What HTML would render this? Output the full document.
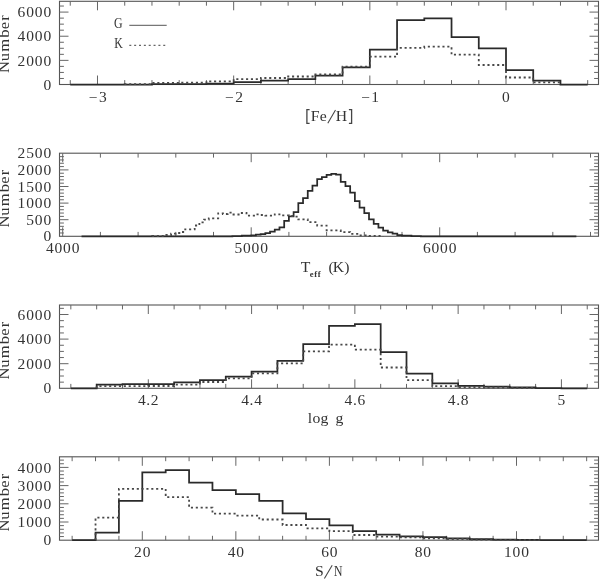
<!DOCTYPE html>
<html><head><meta charset="utf-8"><style>
html,body{margin:0;padding:0;background:#fff;}
svg{display:block;will-change:transform;}
.n{font-family:"Liberation Serif",serif;font-size:13.6px;fill:#333;}
.t{font-family:"Liberation Serif",serif;font-size:13.8px;fill:#333;}
.sub{font-family:"Liberation Serif",serif;font-size:8.6px;font-weight:bold;fill:#333;}
</style></head><body>
<svg width="600" height="579" viewBox="0 0 600 579">
<rect x="0" y="0" width="600" height="579" fill="#fff"/>
<rect x="59.5" y="1.3" width="539" height="83.2" fill="none" stroke="#555" stroke-width="1.1"/>
<path d="M70.26 84.5v-4.4M70.26 1.3v4.4M97.49 84.5v-9M97.49 1.3v9M124.72 84.5v-4.4M124.72 1.3v4.4M151.96 84.5v-4.4M151.96 1.3v4.4M179.19 84.5v-4.4M179.19 1.3v4.4M206.43 84.5v-4.4M206.43 1.3v4.4M233.66 84.5v-9M233.66 1.3v9M260.89 84.5v-4.4M260.89 1.3v4.4M288.13 84.5v-4.4M288.13 1.3v4.4M315.36 84.5v-4.4M315.36 1.3v4.4M342.6 84.5v-4.4M342.6 1.3v4.4M369.83 84.5v-9M369.83 1.3v9M397.06 84.5v-4.4M397.06 1.3v4.4M424.3 84.5v-4.4M424.3 1.3v4.4M451.53 84.5v-4.4M451.53 1.3v4.4M478.77 84.5v-4.4M478.77 1.3v4.4M506 84.5v-9M506 1.3v9M533.23 84.5v-4.4M533.23 1.3v4.4M560.47 84.5v-4.4M560.47 1.3v4.4M587.7 84.5v-4.4M587.7 1.3v4.4M59.5 78.47h4.4M598.5 78.47h-4.4M59.5 72.43h4.4M598.5 72.43h-4.4M59.5 66.39h4.4M598.5 66.39h-4.4M59.5 60.36h9M598.5 60.36h-9M59.5 54.33h4.4M598.5 54.33h-4.4M59.5 48.29h4.4M598.5 48.29h-4.4M59.5 42.25h4.4M598.5 42.25h-4.4M59.5 36.22h9M598.5 36.22h-9M59.5 30.18h4.4M598.5 30.18h-4.4M59.5 24.15h4.4M598.5 24.15h-4.4M59.5 18.11h4.4M598.5 18.11h-4.4M59.5 12.08h9M598.5 12.08h-9M59.5 6.04h4.4M598.5 6.04h-4.4" stroke="#666" stroke-width="1" fill="none"/>
<rect x="59.5" y="153.2" width="539" height="83.1" fill="none" stroke="#555" stroke-width="1.1"/>
<path d="M62.7 236.3v-9M62.7 153.2v9M100.4 236.3v-4.4M100.4 153.2v4.4M138.1 236.3v-4.4M138.1 153.2v4.4M175.8 236.3v-4.4M175.8 153.2v4.4M213.5 236.3v-4.4M213.5 153.2v4.4M251.2 236.3v-9M251.2 153.2v9M288.9 236.3v-4.4M288.9 153.2v4.4M326.6 236.3v-4.4M326.6 153.2v4.4M364.3 236.3v-4.4M364.3 153.2v4.4M402 236.3v-4.4M402 153.2v4.4M439.7 236.3v-9M439.7 153.2v9M477.4 236.3v-4.4M477.4 153.2v4.4M515.1 236.3v-4.4M515.1 153.2v4.4M552.8 236.3v-4.4M552.8 153.2v4.4M590.5 236.3v-4.4M590.5 153.2v4.4M59.5 232.98h4.4M598.5 232.98h-4.4M59.5 229.66h4.4M598.5 229.66h-4.4M59.5 226.34h4.4M598.5 226.34h-4.4M59.5 223.02h4.4M598.5 223.02h-4.4M59.5 219.7h9M598.5 219.7h-9M59.5 216.38h4.4M598.5 216.38h-4.4M59.5 213.06h4.4M598.5 213.06h-4.4M59.5 209.74h4.4M598.5 209.74h-4.4M59.5 206.42h4.4M598.5 206.42h-4.4M59.5 203.1h9M598.5 203.1h-9M59.5 199.78h4.4M598.5 199.78h-4.4M59.5 196.46h4.4M598.5 196.46h-4.4M59.5 193.14h4.4M598.5 193.14h-4.4M59.5 189.82h4.4M598.5 189.82h-4.4M59.5 186.5h9M598.5 186.5h-9M59.5 183.18h4.4M598.5 183.18h-4.4M59.5 179.86h4.4M598.5 179.86h-4.4M59.5 176.54h4.4M598.5 176.54h-4.4M59.5 173.22h4.4M598.5 173.22h-4.4M59.5 169.9h9M598.5 169.9h-9M59.5 166.58h4.4M598.5 166.58h-4.4M59.5 163.26h4.4M598.5 163.26h-4.4M59.5 159.94h4.4M598.5 159.94h-4.4M59.5 156.62h4.4M598.5 156.62h-4.4" stroke="#666" stroke-width="1" fill="none"/>
<rect x="59.5" y="305" width="539" height="83.3" fill="none" stroke="#555" stroke-width="1.1"/>
<path d="M70.84 388.3v-4.4M70.84 305v4.4M96.66 388.3v-4.4M96.66 305v4.4M122.48 388.3v-4.4M122.48 305v4.4M148.3 388.3v-9M148.3 305v9M174.12 388.3v-4.4M174.12 305v4.4M199.94 388.3v-4.4M199.94 305v4.4M225.76 388.3v-4.4M225.76 305v4.4M251.58 388.3v-9M251.58 305v9M277.4 388.3v-4.4M277.4 305v4.4M303.22 388.3v-4.4M303.22 305v4.4M329.04 388.3v-4.4M329.04 305v4.4M354.86 388.3v-9M354.86 305v9M380.68 388.3v-4.4M380.68 305v4.4M406.5 388.3v-4.4M406.5 305v4.4M432.32 388.3v-4.4M432.32 305v4.4M458.14 388.3v-9M458.14 305v9M483.96 388.3v-4.4M483.96 305v4.4M509.78 388.3v-4.4M509.78 305v4.4M535.6 388.3v-4.4M535.6 305v4.4M561.42 388.3v-9M561.42 305v9M587.24 388.3v-4.4M587.24 305v4.4M59.5 382.15h4.4M598.5 382.15h-4.4M59.5 376h4.4M598.5 376h-4.4M59.5 369.85h4.4M598.5 369.85h-4.4M59.5 363.7h9M598.5 363.7h-9M59.5 357.55h4.4M598.5 357.55h-4.4M59.5 351.4h4.4M598.5 351.4h-4.4M59.5 345.25h4.4M598.5 345.25h-4.4M59.5 339.1h9M598.5 339.1h-9M59.5 332.95h4.4M598.5 332.95h-4.4M59.5 326.8h4.4M598.5 326.8h-4.4M59.5 320.65h4.4M598.5 320.65h-4.4M59.5 314.5h9M598.5 314.5h-9M59.5 308.35h4.4M598.5 308.35h-4.4" stroke="#666" stroke-width="1" fill="none"/>
<rect x="59.5" y="456.8" width="539" height="83.4" fill="none" stroke="#555" stroke-width="1.1"/>
<path d="M72.14 540.2v-4.4M72.14 456.8v4.4M95.53 540.2v-4.4M95.53 456.8v4.4M118.91 540.2v-4.4M118.91 456.8v4.4M142.3 540.2v-9M142.3 456.8v9M165.69 540.2v-4.4M165.69 456.8v4.4M189.08 540.2v-4.4M189.08 456.8v4.4M212.46 540.2v-4.4M212.46 456.8v4.4M235.85 540.2v-9M235.85 456.8v9M259.24 540.2v-4.4M259.24 456.8v4.4M282.62 540.2v-4.4M282.62 456.8v4.4M306.01 540.2v-4.4M306.01 456.8v4.4M329.4 540.2v-9M329.4 456.8v9M352.79 540.2v-4.4M352.79 456.8v4.4M376.18 540.2v-4.4M376.18 456.8v4.4M399.56 540.2v-4.4M399.56 456.8v4.4M422.95 540.2v-9M422.95 456.8v9M446.34 540.2v-4.4M446.34 456.8v4.4M469.73 540.2v-4.4M469.73 456.8v4.4M493.11 540.2v-4.4M493.11 456.8v4.4M516.5 540.2v-9M516.5 456.8v9M539.89 540.2v-4.4M539.89 456.8v4.4M563.28 540.2v-4.4M563.28 456.8v4.4M586.66 540.2v-4.4M586.66 456.8v4.4M59.5 536.56h4.4M598.5 536.56h-4.4M59.5 532.92h4.4M598.5 532.92h-4.4M59.5 529.28h4.4M598.5 529.28h-4.4M59.5 525.64h4.4M598.5 525.64h-4.4M59.5 522h9M598.5 522h-9M59.5 518.36h4.4M598.5 518.36h-4.4M59.5 514.72h4.4M598.5 514.72h-4.4M59.5 511.08h4.4M598.5 511.08h-4.4M59.5 507.44h4.4M598.5 507.44h-4.4M59.5 503.8h9M598.5 503.8h-9M59.5 500.16h4.4M598.5 500.16h-4.4M59.5 496.52h4.4M598.5 496.52h-4.4M59.5 492.88h4.4M598.5 492.88h-4.4M59.5 489.24h4.4M598.5 489.24h-4.4M59.5 485.6h9M598.5 485.6h-9M59.5 481.96h4.4M598.5 481.96h-4.4M59.5 478.32h4.4M598.5 478.32h-4.4M59.5 474.68h4.4M598.5 474.68h-4.4M59.5 471.04h4.4M598.5 471.04h-4.4M59.5 467.4h9M598.5 467.4h-9M59.5 463.76h4.4M598.5 463.76h-4.4M59.5 460.12h4.4M598.5 460.12h-4.4" stroke="#666" stroke-width="1" fill="none"/>
<path d="M70.26 84.5V84.5H97.49V84.5H124.72V84.5H151.96V84.2H179.19V84H206.43V83.5H233.66V82H260.89V80.5H288.13V79H315.36V75.5H342.6V67.3H369.83V49.7H397.06V20H424.3V18.3H451.53V37.2H478.77V48.3H506V70H533.23V80.5H560.47V84.5H587.7V84.5" fill="none" stroke="#2a2a2a" stroke-width="1.75" stroke-linejoin="miter"/>
<path d="M124.72 84.5V84.1H151.96V83H179.19V82.6H206.43V81.3H233.66V79.2H260.89V78H288.13V76.5H315.36V74.5H342.6V66.7H369.83V56.7H397.06V47.8H424.3V46.7H451.53V54.7H478.77V65H506V77.5H533.23V82.3H560.47V84.5" fill="none" stroke="#484848" stroke-width="1.8" stroke-dasharray="2.1 2.77"/>
<path d="M81.55 236.3V236.3H86.26V236.3H90.97V236.3H95.69V236.3H100.4V236.3H105.11V236.3H109.83V236.3H114.54V236.3H119.25V236.3H123.96V236.3H128.68V236.3H133.39V236.3H138.1V236.3H142.81V236.3H147.53V236.3H152.24V236.3H156.95V236.3H161.66V236.3H166.38V236.3H171.09V236.3H175.8V236.3H180.51V236.3H185.23V236.3H189.94V236.3H194.65V236.3H199.36V236.3H204.07V236.3H208.79V236.3H213.5V236.3H218.21V236.3H222.93V236.3H227.64V236.3H232.35V236H237.06V236H241.77V235.7H246.49V235.7H251.2V235.3H255.91V234.7H260.62V234H265.34V233H270.05V231.6H274.76V229.7H279.48V227.3H284.19V220.8H288.9V216.3H293.61V212.1H298.32V203H303.04V198H307.75V190.8H312.46V185.7H317.18V179H321.89V177.1H326.6V174.9H331.31V173.8H336.02V174.5H340.74V181.8H345.45V186H350.16V192.5H354.88V201.2H359.59V207.7H364.3V213.2H369.01V219.4H373.72V223.8H378.44V227.7H383.15V230.7H387.86V232.4H392.57V233.7H397.29V235H402V235.6H406.71V235.6H411.43V236H416.14V236H420.85V236.3H425.56V236.3H430.27V236.3H434.99V236.3H439.7V236.3H444.41V236.3H449.12V236.3H453.84V236.3H458.55V236.3H463.26V236.3H467.97V236.3H472.69V236.3H477.4V236.3H482.11V236.3H486.82V236.3H491.54V236.3H496.25V236.3H500.96V236.3H505.68V236.3H510.39V236.3H515.1V236.3H519.81V236.3H524.52V236.3H529.24V236.3H533.95V236.3H538.66V236.3H543.38V236.3H548.09V236.3H552.8V236.3H557.51V236.3H562.23V236.3H566.94V236.3H571.65V236.3H576.36V236.3" fill="none" stroke="#2a2a2a" stroke-width="1.75" stroke-linejoin="miter"/>
<path d="M152.24 236.3V236H156.95V236H161.66V236H166.38V235H171.09V233.7H175.8V233H180.51V232H185.23V229.3H189.94V229.3H194.65V225.5H199.36V222.3H204.07V219.6H208.79V218.3H213.5V218.3H218.21V213.3H222.93V214H227.64V212.7H232.35V214.5H237.06V214.5H241.77V213H246.49V215.6H251.2V215.6H255.91V214.4H260.62V215H265.34V215.6H270.05V215.6H274.76V214.3H279.48V215.3H284.19V215.3H288.9V216H293.61V216.6H298.32V219.4H303.04V219.4H307.75V222.2H312.46V222.2H317.18V225.6H321.89V225.6H326.6V230.4H331.31V230.4H336.02V230.4H340.74V232.1H345.45V232.1H350.16V233.9H354.88V233.9H359.59V235.3H364.3V235.3H369.01V235.9H373.72V235.9H378.44V235.9H383.15V236.3" fill="none" stroke="#484848" stroke-width="1.8" stroke-dasharray="2.1 2.77"/>
<path d="M70.84 388.3V388.3H96.66V384.5H122.48V384.2H148.3V384H174.12V382.4H199.94V380H225.76V376.5H251.58V371.7H277.4V360.8H303.22V344.2H329.04V325.8H354.86V324.2H380.68V352H406.5V373.7H432.32V383.3H458.14V385.8H483.96V386.5H509.78V387.4H535.6V388.1H561.42V388.3H587.24V388.3" fill="none" stroke="#2a2a2a" stroke-width="1.75" stroke-linejoin="miter"/>
<path d="M96.66 388.3V386.2H122.48V386.2H148.3V386H174.12V384.6H199.94V382H225.76V378.4H251.58V373.3H277.4V363.3H303.22V351.3H329.04V344.7H354.86V349.7H380.68V367.5H406.5V380.2H432.32V386.2H458.14V387H483.96V387.5H509.78V388H535.6V388.3" fill="none" stroke="#484848" stroke-width="1.8" stroke-dasharray="2.1 2.77"/>
<path d="M72.14 540.2V540.2H95.53V532.6H118.91V500.8H142.3V472.4H165.69V470.2H189.08V482.6H212.46V490H235.85V494.2H259.24V500.8H282.62V513.3H306.01V519.2H329.4V525.4H352.79V531H376.18V534.6H399.56V536.4H422.95V537H446.34V538.4H469.73V539H493.11V539.5H516.5V539.8H539.89V540H563.28V540.2H586.66V540.2" fill="none" stroke="#2a2a2a" stroke-width="1.75" stroke-linejoin="miter"/>
<path d="M95.53 540.2V517.7H118.91V488.9H142.3V488.8H165.69V497.2H189.08V507.6H212.46V513.7H235.85V515.6H259.24V519.5H282.62V525H306.01V528.3H329.4V531.2H352.79V535H376.18V536.6H399.56V537.4H422.95V538.4H446.34V539H469.73V539.5H493.11V539.8H516.5V540H539.89V540.2" fill="none" stroke="#484848" stroke-width="1.8" stroke-dasharray="2.1 2.77"/>
<text transform="scale(1.14 1)" x="41.49" y="89.7" text-anchor="middle" class="n">0</text>
<text transform="scale(1.14 1)" x="18.86 26.4 33.95 41.49" y="65.56" text-anchor="middle" class="n">2000</text>
<text transform="scale(1.14 1)" x="18.86 26.4 33.95 41.49" y="41.42" text-anchor="middle" class="n">4000</text>
<text transform="scale(1.14 1)" x="18.86 26.4 33.95 41.49" y="17.28" text-anchor="middle" class="n">6000</text>
<text transform="scale(1.14 1)" x="41.49" y="241.5" text-anchor="middle" class="n">0</text>
<text transform="scale(1.14 1)" x="26.4 33.95 41.49" y="224.9" text-anchor="middle" class="n">500</text>
<text transform="scale(1.14 1)" x="18.86 26.4 33.95 41.49" y="208.3" text-anchor="middle" class="n">1000</text>
<text transform="scale(1.14 1)" x="18.86 26.4 33.95 41.49" y="191.7" text-anchor="middle" class="n">1500</text>
<text transform="scale(1.14 1)" x="18.86 26.4 33.95 41.49" y="175.1" text-anchor="middle" class="n">2000</text>
<text transform="scale(1.14 1)" x="18.86 26.4 33.95 41.49" y="158.5" text-anchor="middle" class="n">2500</text>
<text transform="scale(1.14 1)" x="41.49" y="393.5" text-anchor="middle" class="n">0</text>
<text transform="scale(1.14 1)" x="18.86 26.4 33.95 41.49" y="368.9" text-anchor="middle" class="n">2000</text>
<text transform="scale(1.14 1)" x="18.86 26.4 33.95 41.49" y="344.3" text-anchor="middle" class="n">4000</text>
<text transform="scale(1.14 1)" x="18.86 26.4 33.95 41.49" y="319.7" text-anchor="middle" class="n">6000</text>
<text transform="scale(1.14 1)" x="41.49" y="545.4" text-anchor="middle" class="n">0</text>
<text transform="scale(1.14 1)" x="18.86 26.4 33.95 41.49" y="527.2" text-anchor="middle" class="n">1000</text>
<text transform="scale(1.14 1)" x="18.86 26.4 33.95 41.49" y="509" text-anchor="middle" class="n">2000</text>
<text transform="scale(1.14 1)" x="18.86 26.4 33.95 41.49" y="490.8" text-anchor="middle" class="n">3000</text>
<text transform="scale(1.14 1)" x="18.86 26.4 33.95 41.49" y="472.6" text-anchor="middle" class="n">4000</text>
<text transform="scale(1.14 1)" x="81.75 90.25" y="101.6" text-anchor="middle" class="n">−3</text>
<text transform="scale(1.14 1)" x="201.19 209.7" y="101.6" text-anchor="middle" class="n">−2</text>
<text transform="scale(1.14 1)" x="320.64 329.15" y="101.6" text-anchor="middle" class="n">−1</text>
<text transform="scale(1.14 1)" x="443.86" y="101.6" text-anchor="middle" class="n">0</text>
<text transform="scale(1.14 1)" x="43.68 51.23 58.77 66.32" y="253.4" text-anchor="middle" class="n">4000</text>
<text transform="scale(1.14 1)" x="209.04 216.58 224.12 231.67" y="253.4" text-anchor="middle" class="n">5000</text>
<text transform="scale(1.14 1)" x="374.39 381.93 389.47 397.02" y="253.4" text-anchor="middle" class="n">6000</text>
<text transform="scale(1.14 1)" x="124.43 130.09 135.75" y="405.3" text-anchor="middle" class="n">4.2</text>
<text transform="scale(1.14 1)" x="215.03 220.68 226.34" y="405.3" text-anchor="middle" class="n">4.4</text>
<text transform="scale(1.14 1)" x="305.62 311.28 316.94" y="405.3" text-anchor="middle" class="n">4.6</text>
<text transform="scale(1.14 1)" x="396.22 401.88 407.54" y="405.3" text-anchor="middle" class="n">4.8</text>
<text transform="scale(1.14 1)" x="492.47" y="405.3" text-anchor="middle" class="n">5</text>
<text transform="scale(1.14 1)" x="121.05 128.6" y="557.2" text-anchor="middle" class="n">20</text>
<text transform="scale(1.14 1)" x="203.11 210.66" y="557.2" text-anchor="middle" class="n">40</text>
<text transform="scale(1.14 1)" x="285.18 292.72" y="557.2" text-anchor="middle" class="n">60</text>
<text transform="scale(1.14 1)" x="367.24 374.78" y="557.2" text-anchor="middle" class="n">80</text>
<text transform="scale(1.14 1)" x="445.53 453.07 460.61" y="557.2" text-anchor="middle" class="n">100</text>
<text transform="translate(9.3 43.1) rotate(-90) scale(1.2 1)" x="-20 -11.75 -1.88 7.88 14.54 21" y="0" text-anchor="middle" class="t">Number</text>
<text transform="translate(9.3 197.6) rotate(-90) scale(1.2 1)" x="-20 -11.75 -1.88 7.88 14.54 21" y="0" text-anchor="middle" class="t">Number</text>
<text transform="translate(9.3 349.6) rotate(-90) scale(1.2 1)" x="-20 -11.75 -1.88 7.88 14.54 21" y="0" text-anchor="middle" class="t">Number</text>
<text transform="translate(9.3 501.6) rotate(-90) scale(1.2 1)" x="-20 -11.75 -1.88 7.88 14.54 21" y="0" text-anchor="middle" class="t">Number</text>
<text transform="scale(1.14 1)" x="276.4 283.51" y="120.6" text-anchor="middle" class="t">Fe</text>
<text transform="scale(1.14 1)" x="299.47" y="120.6" text-anchor="middle" class="t">H</text>
<path d="M309.6 109.7H306.9V123.4H309.6M348.9 109.7H351.6V123.4H348.9" fill="none" stroke="#444" stroke-width="1.3"/>
<path d="M327.8 123.3L335.5 110" stroke="#444" stroke-width="1.05"/>
<text transform="scale(1.14 1)" x="268.07" y="271.7" text-anchor="middle" class="t">T</text>
<text transform="scale(1 1)" x="311.7 315.6 319.1" y="276.8" text-anchor="middle" class="sub">eff</text>
<text transform="scale(1.14 1)" x="290.53 296.93 304.3" y="271.7" text-anchor="middle" class="t">(K)</text>
<text transform="scale(1.14 1)" x="271.93 277.54 284.56 297.81" y="422.7" text-anchor="middle" class="t">logg</text>
<text transform="scale(1.14 1)" x="280.18" y="575.7" text-anchor="middle" class="t">S</text>
<text transform="scale(0.85 1)" x="397.88" y="575.7" text-anchor="middle" class="t">N</text>
<path d="M324.4 578.5L332.2 565.3" stroke="#444" stroke-width="1.05"/>
<text transform="scale(0.86 1)" x="137.44" y="28.1" text-anchor="middle" class="t">G</text>
<path d="M129.3 25.3H166.7" stroke="#555" stroke-width="1"/>
<text transform="scale(0.86 1)" x="137.79" y="48.3" text-anchor="middle" class="t">K</text>
<path d="M129.3 45.4H165.3" stroke="#666" stroke-width="1.1" stroke-dasharray="2 2.85"/>
</svg>
</body></html>
